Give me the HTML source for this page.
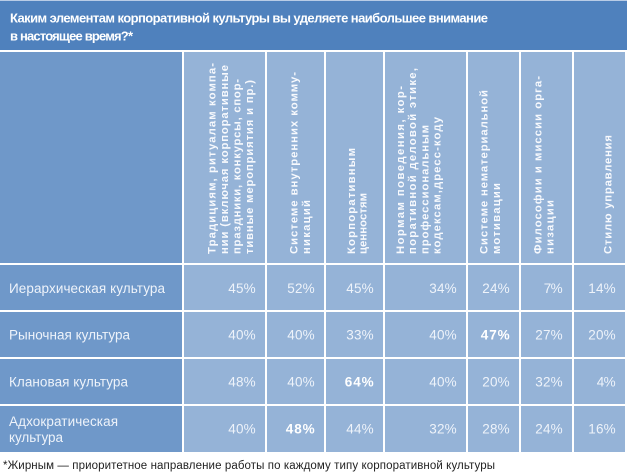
<!DOCTYPE html>
<html><head><meta charset="utf-8">
<style>
html,body{margin:0;padding:0;background:#fff;}
svg{display:block;}
text{font-family:"Liberation Sans","Noto Sans CJK SC",sans-serif;}
.h{font-size:11.3px;font-weight:bold;fill:#f7f9fd;}
.l{font-size:13.5px;fill:#eef3fa;}
.v{font-size:13.5px;fill:#eef3fa;}
.b{font-weight:bold;fill:#fff;}
</style></head>
<body>
<svg width="627" height="473" viewBox="0 0 627 473" xmlns="http://www.w3.org/2000/svg">
<rect x="0" y="0" width="627" height="473" fill="#fff"/>
<!-- title band -->
<rect x="0" y="0" width="627" height="50" fill="#4f81bd"/>
<rect x="0" y="0" width="627" height="1" fill="#b9cce6"/>
<text x="10" y="22.5" font-size="13" font-weight="bold" fill="#fff" textLength="478" lengthAdjust="spacing">Каким элементам корпоративной культуры вы уделяете наибольшее внимание</text>
<text x="10" y="40.5" font-size="13" font-weight="bold" fill="#fff" textLength="123" lengthAdjust="spacing">в настоящее время?*</text>

<!-- label column -->
<g fill="#6f98c9">
<rect x="0" y="52" width="182" height="211"/>
<rect x="0" y="265" width="182" height="45"/>
<rect x="0" y="312" width="182" height="45"/>
<rect x="0" y="359" width="182" height="45"/>
<rect x="0" y="406" width="182" height="46"/>
</g>
<!-- data cells -->
<g fill="#95b3d7">
<rect x="184" y="52" width="81" height="211"/>
<rect x="267" y="52" width="57" height="211"/>
<rect x="326" y="52" width="57" height="211"/>
<rect x="385" y="52" width="81" height="211"/>
<rect x="468" y="52" width="51" height="211"/>
<rect x="521" y="52" width="51" height="211"/>
<rect x="574" y="52" width="51" height="211"/>

<rect x="184" y="265" width="81" height="45"/>
<rect x="267" y="265" width="57" height="45"/>
<rect x="326" y="265" width="57" height="45"/>
<rect x="385" y="265" width="81" height="45"/>
<rect x="468" y="265" width="51" height="45"/>
<rect x="521" y="265" width="51" height="45"/>
<rect x="574" y="265" width="51" height="45"/>

<rect x="184" y="312" width="81" height="45"/>
<rect x="267" y="312" width="57" height="45"/>
<rect x="326" y="312" width="57" height="45"/>
<rect x="385" y="312" width="81" height="45"/>
<rect x="468" y="312" width="51" height="45"/>
<rect x="521" y="312" width="51" height="45"/>
<rect x="574" y="312" width="51" height="45"/>

<rect x="184" y="359" width="81" height="45"/>
<rect x="267" y="359" width="57" height="45"/>
<rect x="326" y="359" width="57" height="45"/>
<rect x="385" y="359" width="81" height="45"/>
<rect x="468" y="359" width="51" height="45"/>
<rect x="521" y="359" width="51" height="45"/>
<rect x="574" y="359" width="51" height="45"/>

<rect x="184" y="406" width="81" height="46"/>
<rect x="267" y="406" width="57" height="46"/>
<rect x="326" y="406" width="57" height="46"/>
<rect x="385" y="406" width="81" height="46"/>
<rect x="468" y="406" width="51" height="46"/>
<rect x="521" y="406" width="51" height="46"/>
<rect x="574" y="406" width="51" height="46"/>
</g>

<!-- vertical headers -->
<text class="h" transform="translate(215.3,254) rotate(-90)" textLength="191" lengthAdjust="spacing">Традициям, ритуалам компа-</text>
<text class="h" transform="translate(227.8,254) rotate(-90)" textLength="189" lengthAdjust="spacing">нии (включая корпоративные</text>
<text class="h" transform="translate(240.3,254) rotate(-90)" textLength="175" lengthAdjust="spacing">праздники, конкурсы, спор-</text>
<text class="h" transform="translate(252.8,254) rotate(-90)" textLength="174" lengthAdjust="spacing">тивные мероприятия и пр.)</text>

<text class="h" transform="translate(297.3,254) rotate(-90)" textLength="182" lengthAdjust="spacing">Системе внутренних комму-</text>
<text class="h" transform="translate(310,254) rotate(-90)" textLength="54" lengthAdjust="spacing">никаций</text>

<text class="h" transform="translate(355,254) rotate(-90)" textLength="106" lengthAdjust="spacing">Корпоративным</text>
<text class="h" transform="translate(366.5,254) rotate(-90)" textLength="61" lengthAdjust="spacing">ценностям</text>

<text class="h" transform="translate(403.8,254) rotate(-90)" textLength="168" lengthAdjust="spacing">Нормам поведения, кор-</text>
<text class="h" transform="translate(416,254) rotate(-90)" textLength="186" lengthAdjust="spacing">поративной деловой этике,</text>
<text class="h" transform="translate(428.3,254) rotate(-90)" textLength="129" lengthAdjust="spacing">профессиональным</text>
<text class="h" transform="translate(440.5,254) rotate(-90)" textLength="137" lengthAdjust="spacing">кодексам,дресс-коду</text>

<text class="h" transform="translate(487.3,254) rotate(-90)" textLength="164" lengthAdjust="spacing">Системе нематериальной</text>
<text class="h" transform="translate(499.8,254) rotate(-90)" textLength="71" lengthAdjust="spacing">мотивации</text>

<text class="h" transform="translate(541.3,254) rotate(-90)" textLength="178" lengthAdjust="spacing">Философии и миссии орга-</text>
<text class="h" transform="translate(553.3,254) rotate(-90)" textLength="54" lengthAdjust="spacing">низации</text>

<text class="h" transform="translate(611.3,254) rotate(-90)" textLength="119" lengthAdjust="spacing">Стилю управления</text>

<!-- row labels -->
<text class="l" x="9" y="293" textLength="156" lengthAdjust="spacing">Иерархическая культура</text>
<text class="l" x="9" y="339.5" textLength="121" lengthAdjust="spacing">Рыночная культура</text>
<text class="l" x="9" y="386.5" textLength="119" lengthAdjust="spacing">Клановая культура</text>
<text class="l" x="9" y="426" textLength="109" lengthAdjust="spacing">Адхократическая</text>
<text class="l" x="9" y="442" textLength="54" lengthAdjust="spacing">культура</text>

<!-- row 1 -->
<text class="v" x="228.2" y="293" textLength="27.5" lengthAdjust="spacing">45%</text>
<text class="v" x="287.2" y="293" textLength="27.5" lengthAdjust="spacing">52%</text>
<text class="v" x="346.2" y="293" textLength="27.5" lengthAdjust="spacing">45%</text>
<text class="v" x="429.2" y="293" textLength="27.5" lengthAdjust="spacing">34%</text>
<text class="v" x="482.2" y="293" textLength="27.5" lengthAdjust="spacing">24%</text>
<text class="v" x="543.7" y="293" textLength="19" lengthAdjust="spacing">7%</text>
<text class="v" x="588.2" y="293" textLength="27.5" lengthAdjust="spacing">14%</text>
<!-- row 2 -->
<text class="v" x="228.2" y="339.5" textLength="27.5" lengthAdjust="spacing">40%</text>
<text class="v" x="287.2" y="339.5" textLength="27.5" lengthAdjust="spacing">40%</text>
<text class="v" x="346.2" y="339.5" textLength="27.5" lengthAdjust="spacing">33%</text>
<text class="v" x="429.2" y="339.5" textLength="27.5" lengthAdjust="spacing">40%</text>
<text class="v b" x="480.7" y="339.5" textLength="29" lengthAdjust="spacing">47%</text>
<text class="v" x="535.2" y="339.5" textLength="27.5" lengthAdjust="spacing">27%</text>
<text class="v" x="588.2" y="339.5" textLength="27.5" lengthAdjust="spacing">20%</text>
<!-- row 3 -->
<text class="v" x="228.2" y="386.5" textLength="27.5" lengthAdjust="spacing">48%</text>
<text class="v" x="287.2" y="386.5" textLength="27.5" lengthAdjust="spacing">40%</text>
<text class="v b" x="344.7" y="386.5" textLength="29" lengthAdjust="spacing">64%</text>
<text class="v" x="429.2" y="386.5" textLength="27.5" lengthAdjust="spacing">40%</text>
<text class="v" x="482.2" y="386.5" textLength="27.5" lengthAdjust="spacing">20%</text>
<text class="v" x="535.2" y="386.5" textLength="27.5" lengthAdjust="spacing">32%</text>
<text class="v" x="596.7" y="386.5" textLength="19" lengthAdjust="spacing">4%</text>
<!-- row 4 -->
<text class="v" x="228.2" y="433.5" textLength="27.5" lengthAdjust="spacing">40%</text>
<text class="v b" x="285.7" y="433.5" textLength="29" lengthAdjust="spacing">48%</text>
<text class="v" x="346.2" y="433.5" textLength="27.5" lengthAdjust="spacing">44%</text>
<text class="v" x="429.2" y="433.5" textLength="27.5" lengthAdjust="spacing">32%</text>
<text class="v" x="482.2" y="433.5" textLength="27.5" lengthAdjust="spacing">28%</text>
<text class="v" x="535.2" y="433.5" textLength="27.5" lengthAdjust="spacing">24%</text>
<text class="v" x="588.2" y="433.5" textLength="27.5" lengthAdjust="spacing">16%</text>

<!-- footnote -->
<text x="3" y="469" font-size="11.5" fill="#222" textLength="492" lengthAdjust="spacing">*Жирным — приоритетное направление работы по каждому типу корпоративной культуры</text>
</svg>
</body></html>
